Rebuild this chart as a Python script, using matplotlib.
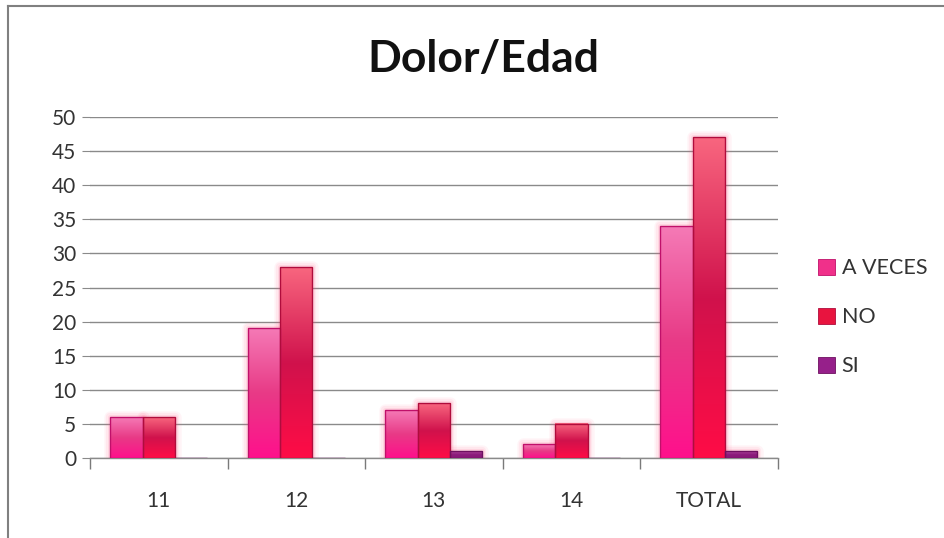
import numpy as np
import matplotlib.pyplot as plt
from matplotlib.colors import LinearSegmentedColormap
from matplotlib.patches import Patch, Rectangle
from matplotlib.lines import Line2D

plt.rcParams['font.family'] = ['Lato', 'DejaVu Sans']

# Survey counts by age
categories = ['11', '12', '13', '14', 'TOTAL']
a_veces = [6, 19, 7, 2, 34]
no = [6, 28, 8, 5, 47]
si = [0, 0, 1, 0, 1]
series_names = ['A VECES', 'NO', 'SI']

# top -> middle -> bottom colours of each bar's gradient
gradients = {
    'A VECES': ['#f57ab6', '#e83a86', '#ff108c'],
    'NO': ['#f8667f', '#d0124c', '#ff0c46'],
    'SI': ['#b0489e', '#8c1c7c', '#8a1878'],
}
edge_colors = {'A VECES': '#c0106a', 'NO': '#b00c3c', 'SI': '#6e1060'}
legend_colors = {'A VECES': '#f0308a', 'NO': '#e8143f', 'SI': '#96208a'}

fig = plt.figure(figsize=(9.45, 5.38), dpi=100)
ax = fig.add_axes([0.0952, 0.1487, 0.7278, 0.6338])

bar_w = 0.235
x = np.arange(len(categories))
grad = np.linspace(0, 1, 256).reshape(-1, 1)

for k, (name, vals) in enumerate(zip(series_names, [a_veces, no, si])):
    cmap = LinearSegmentedColormap.from_list(name, gradients[name])
    for xi, v in zip(x, vals):
        x0 = xi + (k - 1) * bar_w - bar_w / 2
        if v > 0:
            # soft glow around the bar
            for lw, a in [(9, 0.06), (6, 0.08), (3.5, 0.12)]:
                ax.add_patch(Rectangle((x0, 0), bar_w, v, fill=False,
                                       edgecolor='#ff5080', lw=lw, alpha=a,
                                       zorder=2, joinstyle='round'))
            ax.imshow(grad, cmap=cmap, aspect='auto', extent=[x0, x0 + bar_w, 0, v],
                      origin='upper', zorder=3, interpolation='bilinear')
        ax.add_patch(Rectangle((x0, 0), bar_w, v, fill=False,
                               edgecolor=edge_colors[name], lw=1.0, zorder=4))

ax.set_xlim(-0.5, len(categories) - 0.5)
ax.set_ylim(0, 50)
ax.set_yticks(range(0, 51, 5))
ax.yaxis.grid(True, color='#8a8a8a', lw=1.0)
ax.set_axisbelow(True)

ax.set_xticks(x)
ax.set_xticklabels(categories)
ax.set_xticks(np.arange(-0.5, len(categories)), minor=True)
ax.tick_params(axis='x', which='major', length=0, pad=24, labelsize=15, labelcolor='#333333')
ax.tick_params(axis='x', which='minor', length=8, color='#7a7a7a', width=1)
ax.tick_params(axis='y', length=6, color='#8a8a8a', labelsize=15, labelcolor='#333333', pad=4)

for s in ['top', 'right', 'left']:
    ax.spines[s].set_visible(False)
ax.spines['bottom'].set_color('#8a8a8a')
ax.spines['bottom'].set_linewidth(1.0)

fig.text(0.511, 0.89, 'Dolor/Edad', ha='center', va='center',
         fontsize=32, fontweight='bold', color='#111111')

handles = [Patch(facecolor=legend_colors[n], edgecolor=edge_colors[n], lw=0.6)
           for n in series_names]
fig.legend(handles, series_names, loc='center left', bbox_to_anchor=(0.845, 0.41),
           frameon=False, fontsize=15.5, handlelength=0.8, handleheight=0.8,
           handletextpad=0.3, labelspacing=1.35, labelcolor='#333333')

# outer chart frame (left and top edges)
fig.add_artist(Line2D([0.008, 0.008], [0, 0.989], color='#808080', lw=1.5,
                      transform=fig.transFigure))
fig.add_artist(Line2D([0.008, 1.0], [0.989, 0.989], color='#808080', lw=1.5,
                      transform=fig.transFigure))

fig.savefig('out.png', dpi=100, facecolor='white')
